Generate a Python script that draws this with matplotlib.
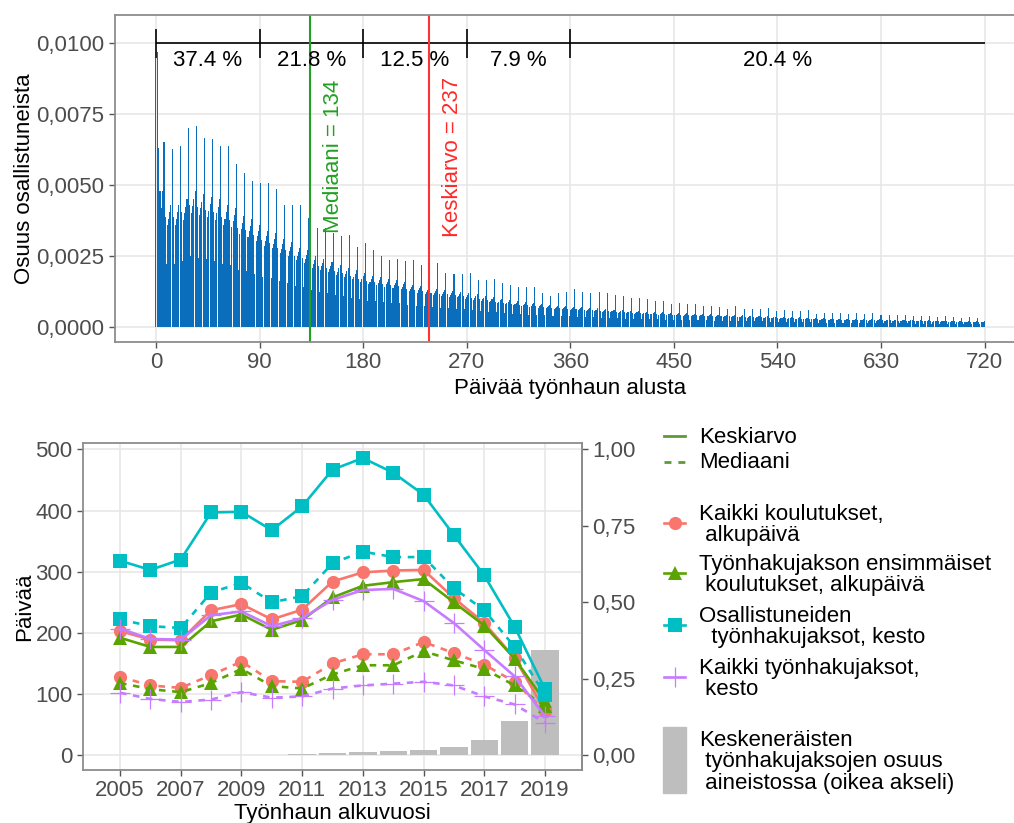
import numpy as np
import matplotlib.pyplot as plt
from matplotlib.patches import Rectangle

plt.rcParams['font.family'] = ['Liberation Sans', 'DejaVu Sans']

# ---- top chart: share of participants by day since job search start ----
# days 0..6 read one by one, then one spike + one base level per week (x 1e-3)
first_week = [9.5, 9.7, 6.3, 4.8, 4.8, 4.2, 4.8]
weekly_peak = [
    6.53, 6.27, 6.37, 7.03, 7.08, 6.68, 6.62, 6.37, 6.37, 5.74,
    5.44, 5.15, 5.08, 5.08, 4.87, 4.32, 4.32, 4.32, 3.83, 3.48,
    3.51, 3.30, 3.20, 3.24, 2.83, 2.98, 2.73, 2.50, 2.36, 2.39,
    2.34, 2.36, 2.18, 2.24, 2.25, 1.91, 1.88, 1.87, 1.90, 1.65,
    1.65, 1.70, 1.55, 1.47, 1.41, 1.43, 1.41, 1.20, 1.10, 1.20,
    1.24, 1.36, 1.22, 1.20, 1.24, 1.20, 1.13, 1.10, 1.04, 1.01,
    0.99, 0.93, 0.93, 0.82, 0.85, 0.82, 0.81, 0.75, 0.75, 0.70,
    0.65, 0.75, 0.63, 0.63, 0.63, 0.66, 0.58, 0.61, 0.58, 0.55,
    0.59, 0.47, 0.49, 0.49, 0.49, 0.47, 0.49, 0.47, 0.49, 0.43,
    0.43, 0.43, 0.42, 0.38, 0.40, 0.38, 0.35, 0.38, 0.35, 0.32,
    0.35, 0.32]
weekly_level = [
    4.3, 4.3, 4.5, 4.8, 4.7, 4.6, 4.5, 4.3, 4.2, 3.9,
    3.8, 3.6, 3.4, 3.3, 3.1, 3.0, 2.8, 2.7, 2.5, 2.4,
    2.3, 2.2, 2.1, 2.0, 1.9, 1.8, 1.75, 1.7, 1.65, 1.6,
    1.5, 1.45, 1.4, 1.35, 1.3, 1.28, 1.25, 1.2, 1.15, 1.1,
    1.05, 1.0, 0.96, 0.92, 0.88, 0.85, 0.82, 0.79, 0.76, 0.74,
    0.72, 0.70, 0.68, 0.66, 0.64, 0.62, 0.60, 0.58, 0.56, 0.54,
    0.53, 0.52, 0.50, 0.49, 0.48, 0.47, 0.46, 0.45, 0.44, 0.43,
    0.42, 0.41, 0.40, 0.39, 0.38, 0.37, 0.36, 0.35, 0.34, 0.33,
    0.32, 0.31, 0.30, 0.30, 0.29, 0.28, 0.28, 0.27, 0.27, 0.26,
    0.26, 0.25, 0.25, 0.24, 0.24, 0.23, 0.23, 0.22, 0.22, 0.21,
    0.21, 0.20]
# shape of a week after the spike day, relative to the weekly level
week_shape = [0.90, 0.52, 0.84, 0.89, 0.94, 1.00]

bracket_edges = [0, 90, 180, 270, 360, 720]
bracket_labels = ["37.4 %", "21.8 %", "12.5 %", "7.9 %", "20.4 %"]
median_day = 134
mean_day = 237

# ---- bottom chart ----
years = list(range(2005, 2020))
kaikki_mean = [203, 189, 188, 237, 247, 222, 238, 284, 299, 302, 303, 257, 216, 159, 73]
kaikki_median = [128, 114, 110, 131, 153, 121, 120, 150, 165, 165, 185, 167, 148, 120, 72]
ensimm_mean = [192, 177, 177, 219, 230, 205, 221, 258, 277, 283, 288, 250, 212, 158, 88]
ensimm_median = [118, 108, 103, 118, 141, 113, 109, 132, 147, 147, 170, 155, 141, 114, 80]
osall_mean = [318, 303, 320, 397, 398, 368, 407, 467, 486, 462, 426, 360, 294, 210, 108]
osall_median = [222, 211, 208, 266, 282, 250, 260, 314, 333, 324, 324, 273, 237, 177, 99]
kaikki_tj_mean = [207, 190, 189, 229, 235, 211, 224, 254, 270, 272, 252, 216, 172, 129, 64]
kaikki_tj_median = [102, 92, 87, 91, 103, 94, 96, 109, 114, 117, 120, 114, 96, 83, 53]
unfinished_share = [0.0, 0.0, 0.0, 0.0005, 0.001, 0.001, 0.003, 0.006, 0.011,
                    0.014, 0.018, 0.027, 0.051, 0.112, 0.343]

W, H = 1014, 823
fig = plt.figure(figsize=(W / 100, H / 100), dpi=100)


def px_axes(left, top, right, bottom):
    return fig.add_axes([left / W, 1 - bottom / H, (right - left) / W, (bottom - top) / H])


TICK_COL = '#4d4d4d'
GRID_COL = '#e6e6e6'
FS = 16


def style(ax):
    ax.set_axisbelow(True)
    ax.grid(color=GRID_COL, lw=1.1)
    for s in ax.spines.values():
        s.set_color('#8c8c8c')
        s.set_linewidth(1.3)
    ax.tick_params(colors='#555555', labelcolor=TICK_COL, labelsize=FS, length=4, width=1)


# ================= top =================
daily = list(first_week)
for peak, level in zip(weekly_peak, weekly_level):
    daily.append(peak)
    daily.extend(level * f for f in week_shape)
daily = np.array(daily[:721]) / 1000
days = np.arange(len(daily))

ax = px_axes(114.5, 15, 1026, 342)
style(ax)
ax.bar(days, daily, width=0.9, color='#0a6ebd', linewidth=0)
ax.set_xlim(-36, 756)
ax.set_ylim(-0.000525, 0.011)
ax.set_xticks(range(0, 721, 90))
ax.set_yticks([0, 0.0025, 0.005, 0.0075, 0.01])
ax.yaxis.set_major_formatter(plt.FuncFormatter(lambda v, p: f"{v:.4f}".replace('.', ',')))

ax.hlines(0.0100, bracket_edges[0], bracket_edges[-1], color='black', lw=1.2)
ax.vlines(bracket_edges[:-1], 0.0095, 0.0105, color='black', lw=1.2)
for a, b, lab in zip(bracket_edges[:-1], bracket_edges[1:], bracket_labels):
    ax.text((a + b) / 2, 0.0094, lab, ha='center', va='center', fontsize=FS, color='black')

ax.axvline(median_day, color='#22a022', lw=1.5)
ax.axvline(mean_day, color='#ff3333', lw=1.5)
ax.text(median_day + 20, 0.006, f"Mediaani = {median_day}", rotation=90, ha='center',
        va='center', color='#22a022', fontsize=FS)
ax.text(mean_day + 21, 0.006, f"Keskiarvo = {mean_day}", rotation=90, ha='center',
        va='center', color='#ff2a2a', fontsize=FS)
ax.set_xlabel("Päivää työnhaun alusta", fontsize=FS, labelpad=3)
ax.set_ylabel("Osuus osallistuneista", fontsize=FS, labelpad=1)

# ================= bottom =================
bx = px_axes(83, 443, 582, 770)
style(bx)
bx.bar(years, np.array(unfinished_share) * 500, width=0.9, color='#bebebe', zorder=1)

series = [
    ('#F8766D', 'o', 9.5, kaikki_mean, kaikki_median),
    ('#5AA400', '^', 10.5, ensimm_mean, ensimm_median),
    ('#00BFC4', 's', 9.5, osall_mean, osall_median),
    ('#C77CFF', '+', 14, kaikki_tj_mean, kaikki_tj_median),
]
for col, mk, ms, mean_vals, med_vals in series:
    mew = 0.9 if mk == '+' else 0
    bx.plot(years, mean_vals, color=col, lw=1.9, marker=mk, ms=ms, mew=mew, zorder=3)
    bx.plot(years, med_vals, color=col, lw=1.9, ls=(0, (2.5, 2.5)), marker=mk, ms=ms,
            mew=mew, zorder=3)

bx.set_xlim(2003.78, 2020.22)
bx.set_ylim(-24.3, 510.6)
bx.set_xticks(range(2005, 2020, 2))
bx.set_yticks(range(0, 501, 100))
sec = bx.secondary_yaxis('right', functions=(lambda v: v / 500, lambda v: v * 500))
sec.set_yticks([0, 0.25, 0.5, 0.75, 1.0])
sec.yaxis.set_major_formatter(plt.FuncFormatter(lambda v, p: f"{v:.2f}".replace('.', ',')))
sec.tick_params(colors='#555555', labelcolor=TICK_COL, labelsize=FS, length=4, width=1)
sec.spines['right'].set_color('#8c8c8c')
sec.spines['right'].set_linewidth(1.3)
bx.set_xlabel("Työnhaun alkuvuosi", fontsize=FS, labelpad=1)
bx.set_ylabel("Päivää", fontsize=FS, labelpad=0)

# ================= legend (drawn in pixel coordinates) =================
lg = fig.add_axes([0, 0, 1, 1])
lg.set_xlim(0, W)
lg.set_ylim(H, 0)
lg.axis('off')

olive = '#5f9a3a'
tx = 699
lg.plot([664, 685], [436, 436], color=olive, lw=2)
lg.text(tx, 437, "Keskiarvo", va='center', fontsize=FS)
lg.plot([664, 685], [462, 462], color=olive, lw=2, ls=(0, (2.5, 2.5)))
lg.text(tx, 462, "Mediaani", va='center', fontsize=FS)

legend_items = [
    ('#F8766D', 'o', 9.5, 523, "Kaikki koulutukset,\n alkupäivä"),
    ('#5AA400', '^', 10.5, 573, "Työnhakujakson ensimmäiset\n koulutukset, alkupäivä"),
    ('#00BFC4', 's', 9.5, 625, "Osallistuneiden\n  työnhakujaksot, kesto"),
    ('#C77CFF', '+', 14, 677, "Kaikki työnhakujaksot,\n kesto"),
]
for col, mk, ms, y, lab in legend_items:
    mew = 0.9 if mk == '+' else 0
    lg.plot([664, 685], [y, y], color=col, lw=1.9)
    lg.plot([674.5], [y], color=col, marker=mk, ms=ms, mew=mew)
    lg.text(tx, y + 2, lab, va='center', fontsize=FS, linespacing=1.05)

lg.add_patch(Rectangle((663, 727), 23, 66, color='#bebebe'))
lg.text(tx, 762, "Keskeneräisten\n työnhakujaksojen osuus\n aineistossa (oikea akseli)",
        va='center', fontsize=FS, linespacing=1.05)

fig.savefig("out.png", dpi=100)
